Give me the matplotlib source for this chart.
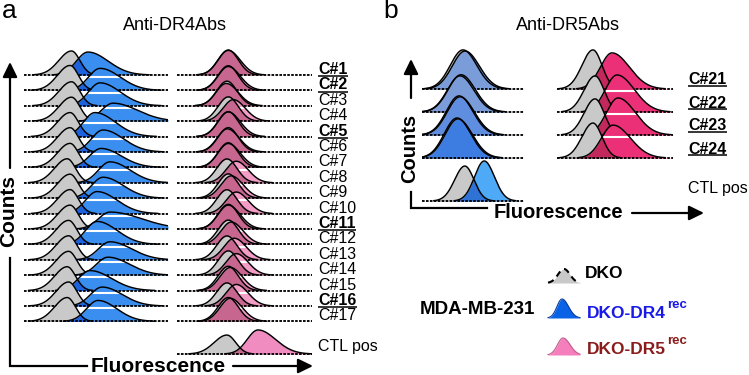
import numpy as np
import matplotlib
matplotlib.use("Agg")
import matplotlib.pyplot as plt

plt.rcParams['font.family'] = ['Liberation Sans', 'DejaVu Sans']

W, H = 749, 375

# ------------------------------------------------------------------ data
# Panel a : anti-DR4 antibody clones
dr4_clones = ["C#1", "C#2", "C#3", "C#4", "C#5", "C#6", "C#7", "C#8", "C#9",
              "C#10", "C#11", "C#12", "C#13", "C#14", "C#15", "C#16", "C#17"]
dr4_selected = ["C#1", "C#2", "C#5", "C#11", "C#16"]

# fluorescence (log, arbitrary units 0-100 across each stack); heights in row units
# left stack : DKO (grey) vs DKO-DR4rec (blue)
a4_dko_peak = [33, 32, 33, 33, 32, 32, 32, 30, 32, 32, 32, 31, 31, 31, 30, 31, 30]
a4_dko_height = [1.56, 1.62, 1.56, 1.56, 1.56, 1.58, 1.56, 1.56, 1.56, 1.56, 1.55, 1.56, 1.56, 1.55, 1.55, 1.56, 1.55]
a4_dr4_peak = [44.4, 52.8, 52.8, 61.8, 49.3, 54.9, 53.5, 59.7, 54.9, 50.7, 59.7, 50.7, 59.7, 58.3, 45.8, 54.2, 51.4]
a4_dr4_height = [1.49, 1.43, 1.49, 1.17, 1.56, 1.43, 1.23, 1.36, 1.36, 1.43, 1.10, 1.49, 1.17, 1.17, 1.30, 1.23, 1.36]
a4_dr4_spread = [14, 14, 14, 17, 14, 14, 14, 14, 14, 14, 22, 14, 15, 15, 15, 14, 13]

# right stack : DKO (grey) vs DKO-DR5rec (pink)
a5_dko_peak = [38, 38, 37, 38, 38, 38, 38, 37, 38, 37, 38, 38, 37, 38, 38, 37, 38]
a5_dko_height = [1.62, 1.60, 1.60, 1.58, 1.62, 1.58, 1.60, 1.55, 1.58, 1.55, 1.60, 1.58, 1.55, 1.58, 1.58, 1.50, 1.55]
a5_dr5_peak = [38, 38, 36.5, 41.7, 38, 37.3, 38, 43.9, 40.2, 43.9, 38, 40.2, 42.4, 43.9, 39.5, 43.9, 39.5]
a5_dr5_height = [1.60, 1.55, 1.45, 1.40, 1.60, 1.50, 1.55, 1.40, 1.45, 1.40, 1.55, 1.45, 1.40, 1.40, 1.50, 1.40, 1.50]

# positive controls panel a (anti-DR5 on DKO-DR5rec)
a_ctl_dko_peak, a_ctl_dko_height = 37, 1.23
a_ctl_dr5_peak, a_ctl_dr5_height = 60, 1.56

# Panel b : anti-DR5 antibody clones
dr5_clones = ["C#21", "C#22", "C#23", "C#24"]
b4_dko_peak = [40.2, 37.3, 36.3, 34.3]
b4_dko_height = [1.70, 1.57, 1.70, 1.74]
b4_dr4_peak = [42.2, 38.2, 37.3, 35.3]
b4_dr4_height = [1.65, 1.62, 1.66, 1.70]
b5_dko_peak = [31.0, 32.8, 32.8, 31.0]
b5_dko_height = [1.70, 1.57, 1.57, 1.52]
b5_dr5_peak = [47.4, 51.7, 52.6, 48.3]
b5_dr5_height = [1.57, 1.61, 1.61, 1.43]

# positive controls panel b (anti-DR4 on DKO-DR4rec)
b_ctl_dko_peak, b_ctl_dko_height = 42, 1.52
b_ctl_dr4_peak, b_ctl_dr4_height = 61, 1.74

# ------------------------------------------------------------------ styles
GREY = '#c9c9c9'
A_BLUE, A_BLUE_OV = '#3a8ef0', '#1c62dc'
A_PINK, A_PINK_OV = '#f29cc6', '#c7668f'
CTL_A_PINK, CTL_A_OV = '#f08cbf', '#c7668f'
B_BLUE_ROWS = ['#7a9dda', '#7a9dda', '#5f8de0', '#3d7de2']
CTL_B_BLUE, CTL_B_OV = '#4ea9f6', '#2f72d6'
B_PINK, B_PINK_OV = '#ec3077', '#c2285c'

fig = plt.figure(figsize=(W / 100, H / 100), dpi=100)
x = np.linspace(0, 100, 500)


def curve(c, sl, sr, h):
    s = np.where(x < c, sl, sr)
    return h * np.exp(-0.5 * ((x - c) / s) ** 2)


def stack_axes(px0, px1, py_top, py_bot, b0, sp):
    ax = fig.add_axes([px0 / W, 1 - py_bot / H, (px1 - px0) / W, (py_bot - py_top) / H])
    ax.set_xlim(0, 100)
    ax.set_ylim(-(py_bot - b0) / sp, -(py_top - b0) / sp)
    ax.axis('off')
    return ax


def outline(ax, base, y, z):
    yy = np.where(y > 0.015, base + y, np.nan)
    ax.plot(x, yy, color='k', lw=1.05, zorder=z, solid_joinstyle='round')


def draw_row(ax, base, g, o, col_o, col_ov, z, band=None, sp=15.4):
    ax.fill_between(x, base, base + o, color=col_o, lw=0, zorder=z)
    if band is not None:
        ax.plot([0, 100], [band - 2.1 / sp] * 2, color='white', lw=1.5, zorder=z + 0.1)
    ax.fill_between(x, base, base + g, color=GREY, lw=0, zorder=z + 0.2)
    ax.fill_between(x, base, base + np.minimum(g, o), color=col_ov, lw=0, zorder=z + 0.3)
    outline(ax, base, g, z + 0.4)
    outline(ax, base, o, z + 0.45)
    ax.plot([0, 100], [base, base], color='k', ls=(0, (1.4, 0.7)), lw=1.35, zorder=z + 0.5)


# ---- panel a, left stack
A_B0, A_SP = 75, 15.4
axA1 = stack_axes(24, 168, 40, 362, A_B0, A_SP)
for i in range(len(dr4_clones)):
    g = curve(a4_dko_peak[i], 8.8, 5.8, a4_dko_height[i])
    o = curve(a4_dr4_peak[i], 8.0, a4_dr4_spread[i], a4_dr4_height[i])
    draw_row(axA1, -i, g, o, A_BLUE, A_BLUE_OV, 2 + i, band=(-(i - 1) if i > 0 else None), sp=A_SP)

# ---- panel a, right stack
axA2 = stack_axes(177, 312, 40, 362, A_B0, A_SP)
for i in range(len(dr4_clones)):
    g = curve(a5_dko_peak[i], 7.6, 7.4, a5_dko_height[i])
    o = curve(a5_dr5_peak[i], 7.6, 8.8, a5_dr5_height[i])
    draw_row(axA2, -i, g, o, A_PINK, A_PINK_OV, 2 + i, band=(-(i - 1) if i > 0 else None), sp=A_SP)
ctl_a_base = -(354 - A_B0) / A_SP
g = curve(a_ctl_dko_peak, 9.5, 6.5, a_ctl_dko_height)
o = curve(a_ctl_dr5_peak, 8.0, 13.0, a_ctl_dr5_height)
draw_row(axA2, ctl_a_base, g, o, CTL_A_PINK, CTL_A_OV, 30, sp=A_SP)

# ---- panel b, left stack
B_B0, B_SP = 89, 23.0
axB1 = stack_axes(422, 524, 40, 210, B_B0, B_SP)
for i in range(len(dr5_clones)):
    g = curve(b4_dko_peak[i], 12.5, 13.5, b4_dko_height[i])
    o = curve(b4_dr4_peak[i], 12.5, 14.0, b4_dr4_height[i])
    draw_row(axB1, -i, g, o, B_BLUE_ROWS[i], B_BLUE_ROWS[i], 2 + i,
             band=(-(i - 1) if i > 0 else None), sp=B_SP)
ctl_b_base = -(201 - B_B0) / B_SP
g = curve(b_ctl_dko_peak, 10.0, 9.0, b_ctl_dko_height)
o = curve(b_ctl_dr4_peak, 9.5, 10.0, b_ctl_dr4_height)
draw_row(axB1, ctl_b_base, g, o, CTL_B_BLUE, CTL_B_OV, 30, sp=B_SP)

# ---- panel b, right stack
axB2 = stack_axes(557, 673, 40, 210, B_B0, B_SP)
for i in range(len(dr5_clones)):
    g = curve(b5_dko_peak[i], 9.5, 7.8, b5_dko_height[i])
    o = curve(b5_dr5_peak[i], 10.0, 15.0, b5_dr5_height[i])
    draw_row(axB2, -i, g, o, B_PINK, B_PINK_OV, 2 + i,
             band=(-(i - 1) if i > 0 else None), sp=B_SP)

# ------------------------------------------------------------------ overlay (text, axes arrows, legend)
ov = fig.add_axes([0, 0, 1, 1])
ov.set_xlim(0, W)
ov.set_ylim(H, 0)
ov.axis('off')
ov.set_zorder(50)
ov.patch.set_alpha(0)

ov.text(2, 11, 'a', fontsize=19, ha='left', va='center')
ov.text(383, 11, 'b', fontsize=19, ha='left', va='center')
ov.text(175, 25, 'Anti-DR4Abs', fontsize=13, ha='center', va='center')
ov.text(568, 25, 'Anti-DR5Abs', fontsize=13, ha='center', va='center')

arrow_kw = dict(arrowstyle='-|>,head_length=0.45,head_width=0.22', color='k', lw=1.6,
                mutation_scale=20, shrinkA=0, shrinkB=0)

# panel a axes
ov.annotate('', xy=(10, 62), xytext=(10, 168), arrowprops=arrow_kw)
ov.text(9, 211, 'Counts', fontsize=15, fontweight='bold', rotation=90, ha='center', va='center')
ov.plot([10, 10, 87], [258, 366, 366], color='k', lw=1.6, solid_joinstyle='miter')
ov.text(158, 366, 'Fluorescence', fontsize=15, fontweight='bold', ha='center', va='center')
ov.annotate('', xy=(313, 366), xytext=(233, 366), arrowprops=arrow_kw)

# panel b axes
ov.annotate('', xy=(411, 59), xytext=(411, 98), arrowprops=arrow_kw)
ov.text(410, 148, 'Counts', fontsize=14.5, fontweight='bold', rotation=90, ha='center', va='center')
ov.plot([411, 411, 487], [192, 208, 208], color='k', lw=1.6, solid_joinstyle='miter')
ov.text(558, 213, 'Fluorescence', fontsize=14.5, fontweight='bold', ha='center', va='center')
ov.annotate('', xy=(704, 213), xytext=(632, 213), arrowprops=arrow_kw)

# clone labels
labels_a = []
for i, lab in enumerate(dr4_clones):
    base = A_B0 + A_SP * i
    sel = lab in dr4_selected
    t = ov.text(318, base - 5.5, lab, fontsize=11.5, fontweight='bold' if sel else 'normal',
                ha='left', va='center')
    if sel:
        labels_a.append((t, base + 1.2))
ov.text(318, 346, 'CTL pos', fontsize=11.5, ha='left', va='center')

labels_b = []
for i, lab in enumerate(dr5_clones):
    base = B_B0 + B_SP * i
    t = ov.text(688, base - 9, lab, fontsize=11.5, fontweight='bold', ha='left', va='center')
    labels_b.append((t, base - 2.6))
ov.text(688, 188, 'CTL pos', fontsize=11.5, ha='left', va='center')

# legend
ov.text(420, 310, 'MDA-MB-231', fontsize=13.5, fontweight='bold', ha='left', va='center')
lx = np.linspace(548, 580, 120)
g_icon = 283 - 14 * np.exp(-0.5 * ((lx - 564) / 6.0) ** 2)
ov.fill_between(lx, 283, g_icon, color=GREY, lw=0)
ov.plot(lx, g_icon, color='k', lw=1.5, ls=(0, (3, 2.2)))
b_icon = 318 - 19 * np.exp(-0.5 * ((lx - 562) / np.where(lx < 562, 5.0, 6.5)) ** 2)
ov.fill_between(lx, 318, b_icon, color='#0a62e6', lw=0)
ov.plot(lx, b_icon, color='#0a3d9a', lw=0.8)
p_icon = 355 - 17 * np.exp(-0.5 * ((lx - 563) / np.where(lx < 563, 5.5, 7.0)) ** 2)
ov.fill_between(lx, 355, p_icon, color='#f57fbd', lw=0)
ov.plot(lx, p_icon, color='#c05a8a', lw=0.8)

ov.text(585, 274, 'DKO', fontsize=12.5, fontweight='bold', ha='left', va='center', color='k')
t4 = ov.text(587, 313, 'DKO-DR4', fontsize=12.5, fontweight='bold', ha='left', va='center', color='#1a1ae8')
t5 = ov.text(587, 349, 'DKO-DR5', fontsize=12.5, fontweight='bold', ha='left', va='center', color='#8a1c1c')

fig.canvas.draw()
r = fig.canvas.get_renderer()
for t, yline in labels_a + labels_b:
    bb = t.get_window_extent(r)
    ov.plot([bb.x0, bb.x1 + 0.5], [yline, yline], color='k', lw=1.1, solid_capstyle='butt')
for t, col in ((t4, '#1a1ae8'), (t5, '#8a1c1c')):
    bb = t.get_window_extent(r)
    ymid = H - (bb.y0 + bb.y1) / 2
    ov.text(bb.x1 + 1, ymid - 8, 'rec', fontsize=9.5, fontweight='bold', ha='left', va='center', color=col)

fig.savefig('out.png', dpi=100)
